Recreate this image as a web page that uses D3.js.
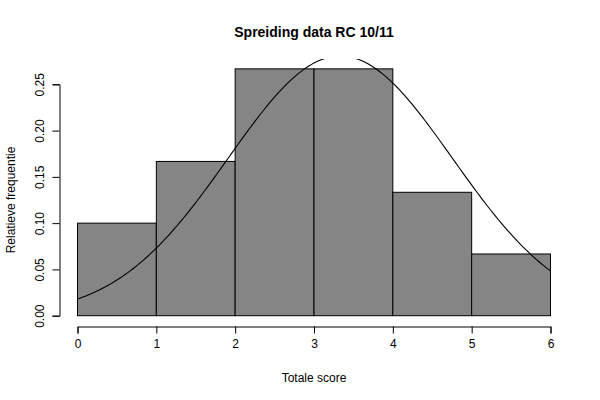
<!DOCTYPE html>
<html><head><meta charset="utf-8">
<script src="https://cdn.jsdelivr.net/npm/d3@7"></script>
<style>body{margin:0;background:#fff}svg{display:block;font-family:"Liberation Sans",Arial,sans-serif}</style>
</head><body><svg id="c" width="600" height="400"></svg>
<script>
const breaks = [0,1,2,3,4,5,6];
const density = [0.1, 0.16667, 0.26667, 0.26667, 0.13333, 0.06667];
const xTicks = [0,1,2,3,4,5,6];
const yTicks = [0,0.05,0.10,0.15,0.20,0.25];
const meanVal = 3.3333, sdVal = 1.422;

const svg = d3.select("#c");
const x = d3.scaleLinear().domain([0,6]).range([77.5,550.5]);
const y = d3.scaleLinear().domain([0,0.25]).range([315.7,84.3]);
const plotL = x(-0.24), plotR = x(6.24), plotT = y(0.26667*1.04), plotB = y(-0.26667*0.04);

svg.append("defs").append("clipPath").attr("id","clip").append("rect")
  .attr("x",plotL).attr("y",plotT).attr("width",plotR-plotL).attr("height",plotB-plotT);

svg.append("g").selectAll("rect").data(density).join("rect")
  .attr("x",(d,i)=>x(breaks[i])).attr("y",d=>y(d))
  .attr("width",(d,i)=>x(breaks[i+1])-x(breaks[i])).attr("height",d=>y(0)-y(d))
  .attr("fill","#858585").attr("stroke","#000").attr("stroke-width",1);

const pts = d3.range(0,6.0001,0.03).map(v=>[v, Math.exp(-0.5*((v-meanVal)/sdVal)**2)/(sdVal*Math.sqrt(2*Math.PI))]);
svg.append("path").datum(pts).attr("clip-path","url(#clip)")
  .attr("d",d3.line().x(d=>x(d[0])).y(d=>y(d[1])))
  .attr("fill","none").attr("stroke","#000").attr("stroke-width",1.1);

const xa = svg.append("g").attr("transform","translate(0,326.5)")
  .call(d3.axisBottom(x).tickValues(xTicks).tickFormat(d3.format("d")).tickSize(7).tickPadding(6));
const ya = svg.append("g").attr("transform","translate(59.5,0)")
  .call(d3.axisLeft(y).tickValues(yTicks).tickFormat(d3.format(".2f")).tickSize(7).tickPadding(6));
[xa,ya].forEach(a=>{a.select(".domain").attr("stroke","#000");a.selectAll("line").attr("stroke","#000");
  a.selectAll("text").attr("font-size",12).attr("fill","#000").attr("font-family","Liberation Sans, Arial, sans-serif");});
ya.selectAll(".tick text").attr("text-anchor","middle").attr("x",null).attr("y",null)
  .attr("transform","translate(-20,0) rotate(-90)").attr("dy","0.35em");

svg.append("text").attr("x",314).attr("y",37).attr("text-anchor","middle")
  .attr("font-size",14).attr("font-weight","bold").text("Spreiding data RC 10/11");
svg.append("text").attr("x",314).attr("y",382).attr("text-anchor","middle")
  .attr("font-size",12).text("Totale score");
svg.append("text").attr("transform","translate(15,200) rotate(-90)").attr("text-anchor","middle")
  .attr("font-size",12).text("Relatieve frequentie");
</script></body></html>
